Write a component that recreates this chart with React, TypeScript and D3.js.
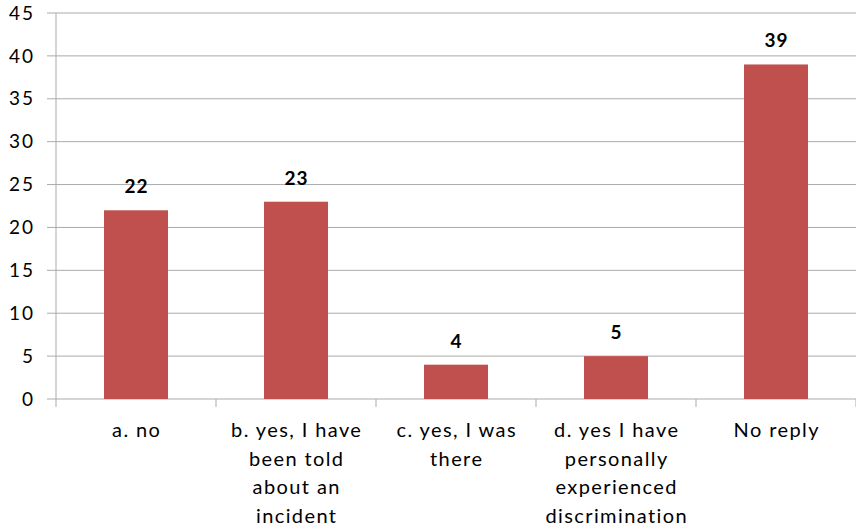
import React from "react";
import * as d3 from "d3";

const categories: string[][] = [
  ["a. no"],
  ["b. yes, I have", "been told", "about an", "incident"],
  ["c. yes, I was", "there"],
  ["d. yes I have", "personally", "experienced", "discrimination"],
  ["No reply"],
];
const values: number[] = [22, 23, 4, 5, 39];
const yTicks: number[] = [0, 5, 10, 15, 20, 25, 30, 35, 40, 45];

const W = 856;
const H = 528;
const left = 56;
const right = 856;
const top = 13;
const bottom = 399;
const font = "Lato, 'Open Sans', sans-serif";

export default function App() {
  const x = d3
    .scaleBand<number>()
    .domain(values.map((_, i) => i))
    .range([left, right])
    .paddingInner(0.6)
    .paddingOuter(0.3);
  const band = (right - left) / values.length;
  const y = d3.scaleLinear().domain([0, 45]).range([bottom, top]);
  const ls = 1.4;

  return (
    <svg
      width={W}
      height={H}
      style={{ position: "absolute", left: 0, top: 0, background: "#fff" }}
    >
      {yTicks.map((t) => (
        <g key={t}>
          <line
            x1={left - 9}
            x2={right}
            y1={y(t)}
            y2={y(t)}
            stroke="#ababab"
            strokeWidth={1}
          />
          <text
            x={33 + 2}
            y={y(t)}
            dy="0.35em"
            textAnchor="end"
            fontFamily={font}
            fontSize={19}
            letterSpacing={2}
            fill="#000"
          >
            {t}
          </text>
        </g>
      ))}
      <line x1={left} x2={left} y1={top} y2={bottom} stroke="#ababab" />
      {d3.range(values.length + 1).map((i) => (
        <line
          key={i}
          x1={left + i * band}
          x2={left + i * band}
          y1={bottom}
          y2={bottom + 8}
          stroke="#ababab"
        />
      ))}
      {values.map((v, i) => (
        <g key={i}>
          <rect
            x={x(i)}
            y={y(v)}
            width={x.bandwidth()}
            height={y(0) - y(v)}
            fill="#C0504D"
          />
          <text
            x={(x(i) as number) + x.bandwidth() / 2 + 0.5}
            y={y(v) - 17}
            textAnchor="middle"
            fontFamily={font}
            fontWeight="bold"
            fontSize={19}
            letterSpacing={1}
            fill="#000"
          >
            {v}
          </text>
        </g>
      ))}
      {categories.map((lines, i) => (
        <text
          key={i}
          textAnchor="middle"
          fontFamily={font}
          fontSize={20}
          letterSpacing={ls}
          fill="#000"
        >
          {lines.map((l, j) => (
            <tspan
              key={j}
              x={left + band * (i + 0.5) + ls / 2}
              y={437 + j * 28.7}
            >
              {l}
            </tspan>
          ))}
        </text>
      ))}
    </svg>
  );
}
